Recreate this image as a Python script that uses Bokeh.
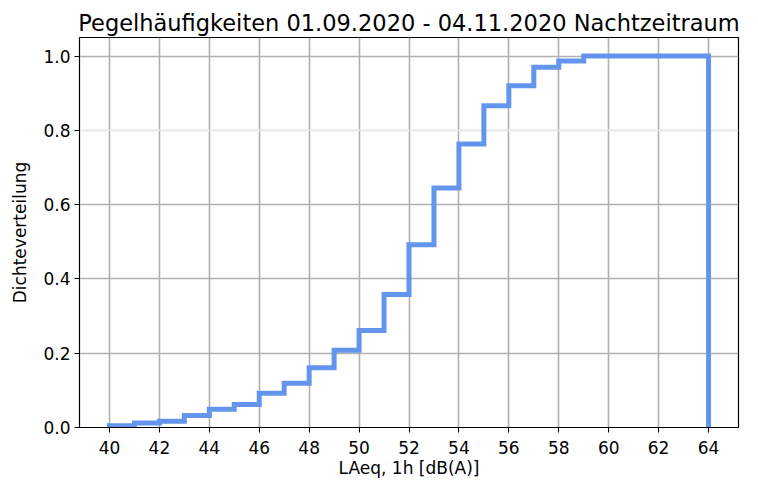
from bokeh.plotting import figure
from bokeh.models import FixedTicker, Range1d, Span, NumeralTickFormatter
from bokeh.embed import file_html
from bokeh.resources import INLINE

# bin edges (dB(A)) and cumulative density per bin
bin_left = list(range(40, 64))
bin_right = list(range(41, 65))
cum_density = [0.005, 0.012, 0.017, 0.032, 0.049, 0.062, 0.092, 0.119, 0.161,
               0.208, 0.261, 0.358, 0.492, 0.645, 0.763, 0.866, 0.920, 0.970,
               0.987, 1.0, 1.0, 1.0, 1.0, 1.0]
x_ticks = list(range(40, 65, 2))
y_ticks = [0.0, 0.2, 0.4, 0.6, 0.8, 1.0]

title = "Pegelhäufigkeiten 01.09.2020 - 04.11.2020 Nachtzeitraum"
FONT = "DejaVu Sans"

p = figure(width=742, height=481, output_backend="svg", toolbar_location=None,
           x_range=Range1d(38.8, 65.2), y_range=Range1d(0, 1.05),
           min_border_left=79, min_border_right=4, min_border_top=37, min_border_bottom=54,
           title=title)

p.title.text_font = FONT
p.title.text_font_size = "22.5px"
p.title.text_font_style = "normal"
p.title.align = "center"
p.title.text_color = "black"
p.title.standoff = 4

# step outline
xs = [bin_left[0]]
ys = [0.0]
for l, r, v in zip(bin_left, bin_right, cum_density):
    xs += [l, r]
    ys += [v, v]
xs.append(bin_right[-1])
ys.append(0.0)
p.line(xs, ys, line_color="#6495ED", line_width=5, line_join="miter")

# axes
for ax in (p.xaxis[0], p.yaxis[0]):
    ax.axis_line_color = "black"
    ax.major_tick_line_color = "black"
    ax.major_tick_out = 5
    ax.major_tick_in = 0
    ax.minor_tick_line_color = None
    ax.major_label_text_font = FONT
    ax.major_label_text_font_size = "17px"
    ax.major_label_text_color = "black"
    ax.major_label_standoff = 4
    ax.axis_label_text_font = FONT
    ax.axis_label_text_font_size = "17px"
    ax.axis_label_text_font_style = "normal"
    ax.axis_label_text_color = "black"

p.xaxis.ticker = FixedTicker(ticks=x_ticks)
p.yaxis.ticker = FixedTicker(ticks=y_ticks)
p.yaxis.formatter = NumeralTickFormatter(format="0.0")
p.xaxis.axis_label = "LAeq, 1h [dB(A)]"
p.yaxis.axis_label = "Dichteverteilung"
p.xaxis.major_label_standoff = 8
p.xaxis.axis_label_standoff = 1
p.yaxis.axis_label_standoff = 10

p.xgrid.ticker = FixedTicker(ticks=x_ticks)
p.ygrid.ticker = FixedTicker(ticks=[0.0, 0.2, 0.4, 0.6, 1.0])
for g in (p.xgrid[0], p.ygrid[0]):
    g.grid_line_color = "#b0b0b0"
    g.grid_line_width = 1.6
    g.level = "underlay"
p.add_layout(Span(location=0.8, dimension="width", line_color="#e6e6e6",
                  line_width=1.6, level="underlay"))

p.outline_line_color = "black"
p.outline_line_width = 1.2
p.background_fill_color = "white"
p.border_fill_color = "white"

open("out.html", "w").write(file_html(p, INLINE))
